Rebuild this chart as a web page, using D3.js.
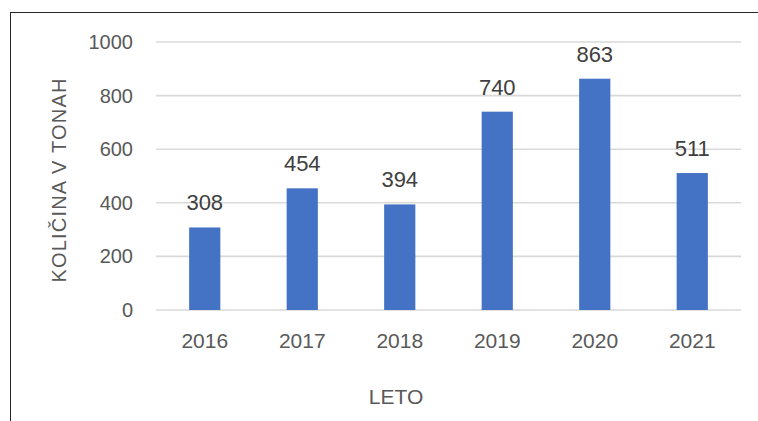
<!DOCTYPE html>
<html><head><meta charset="utf-8">
<script src="https://cdn.jsdelivr.net/npm/d3@7"></script>
<style>
html,body{margin:0;padding:0;background:#fff;}
svg{display:block;font-family:"Liberation Sans",Arial,sans-serif;}
</style></head>
<body>
<svg id="chart" width="758" height="421"></svg>
<script>
const categories = ["2016","2017","2018","2019","2020","2021"];
const values = [308,454,394,740,863,511];
const yTicks = [0,200,400,600,800,1000];
const yTitle = "KOLIČINA  V TONAH";
const xTitle = "LETO";

(function(){
const svg = d3.select("#chart");
// outer frame
svg.append("rect").attr("x",10.5).attr("y",12.5).attr("width",800).attr("height",500)
  .attr("fill","none").attr("stroke","#262626").attr("stroke-width",1);

const pLeft=156, pRight=741, pTop=42, pBottom=310;
const x = d3.scaleBand().domain(categories).range([pLeft,pRight]).paddingInner(0.68).paddingOuter(0.34);
const y = d3.scaleLinear().domain([0,1000]).range([pBottom,pTop]);

// gridlines
svg.append("g").selectAll("line").data(yTicks).join("line")
  .attr("x1",pLeft).attr("x2",pRight)
  .attr("y1",d=>y(d)).attr("y2",d=>y(d))
  .attr("stroke","#d9d9d9").attr("stroke-width",1.6);

// y axis labels
const yAxis = d3.axisLeft(y).tickValues(yTicks).tickFormat(d3.format("d")).tickSize(0).tickPadding(0);
const gy = svg.append("g").attr("transform",`translate(133,0)`).call(yAxis);
gy.select(".domain").remove();
gy.selectAll("text").attr("font-size",20).attr("fill","#595959")
  .attr("font-family","Liberation Sans, Arial, sans-serif");

// x axis labels
const xAxis = d3.axisBottom(x).tickSize(0).tickPadding(0);
const gx = svg.append("g").attr("transform",`translate(0,${pBottom})`).call(xAxis);
gx.select(".domain").remove();
gx.selectAll("text").attr("font-size",21).attr("fill","#595959")
  .attr("font-family","Liberation Sans, Arial, sans-serif")
  .attr("dy",null).attr("y",38);

// bars
svg.append("g").selectAll("rect").data(values).join("rect")
  .attr("x",(d,i)=>x(categories[i]))
  .attr("width",x.bandwidth())
  .attr("y",d=>y(d))
  .attr("height",d=>pBottom-y(d))
  .attr("fill","#4472C4");

// data labels
svg.append("g").selectAll("text").data(values).join("text")
  .attr("x",(d,i)=>x(categories[i])+x.bandwidth()/2)
  .attr("y",d=>y(d)-17)
  .attr("text-anchor","middle")
  .attr("font-size",22).attr("fill","#404040")
  .text(d=>d);

// axis titles
svg.append("text").attr("x",396).attr("y",404).attr("text-anchor","middle")
  .attr("font-size",21).attr("fill","#595959").text(xTitle);
svg.append("text").attr("transform","translate(66,180) rotate(-90)")
  .attr("text-anchor","middle").attr("font-size",20).attr("letter-spacing",1.2)
  .attr("fill","#595959").text(yTitle);
})();
</script>
</body></html>
